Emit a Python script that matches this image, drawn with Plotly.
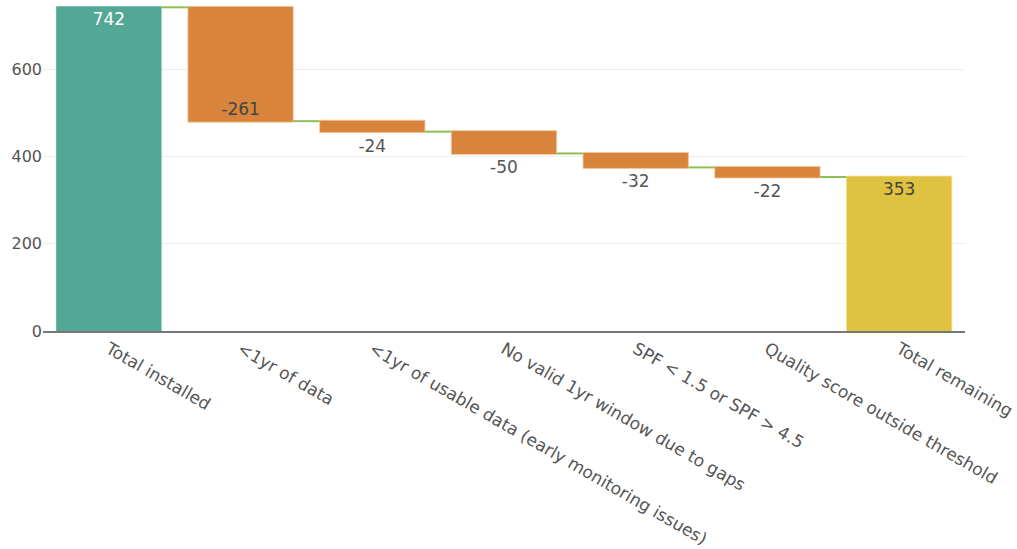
import plotly.graph_objects as go

categories = [
    "Total installed",
    "<1yr of data",
    "<1yr of usable data (early monitoring issues)",
    "No valid 1yr window due to gaps",
    "SPF < 1.5 or SPF > 4.5",
    "Quality score outside threshold",
    "Total remaining",
]
values = [742, -261, -24, -50, -32, -22, 353]
measures = ["relative", "relative", "relative", "relative", "relative", "relative", "total"]
labels = ["742", "-261", "-24", "-50", "-32", "-22", "353"]
label_colors = ["white", "#444", "#555", "#555", "#555", "#555", "#444"]

TEAL = "#53A795"
ORANGE = "#D9843C"
YELLOW = "#DFC23F"
CONNECTOR = "#8DBF55"
FONT = "DejaVu Sans, Verdana, sans-serif"

fig = go.Figure(
    go.Waterfall(
        x=categories,
        y=values,
        measure=measures,
        text=labels,
        textposition="auto",
        textfont=dict(size=17, color=label_colors, family=FONT),
        decreasing=dict(marker=dict(color=ORANGE, line=dict(color="rgba(245,200,160,0.8)", width=1))),
        increasing=dict(marker=dict(color=TEAL)),
        totals=dict(marker=dict(color=YELLOW, line=dict(color="rgba(245,225,160,0.8)", width=1))),
        connector=dict(line=dict(color=CONNECTOR, width=2)),
        showlegend=False,
    )
)

fig.update_layout(
    width=1017,
    height=549,
    margin=dict(l=43, r=52, t=6, b=218),
    paper_bgcolor="white",
    plot_bgcolor="white",
    font=dict(family=FONT, size=16, color="#555"),
    bargap=0.2,
    showlegend=False,
)
fig.update_xaxes(
    tickangle=30,
    showline=True,
    linecolor="#777",
    linewidth=1.5,
    showgrid=False,
    automargin=False,
    tickfont=dict(size=17, color="#555"),
)
fig.update_yaxes(
    range=[0, 745],
    tickvals=[0, 200, 400, 600],
    gridcolor="#EEEEEE",
    zeroline=False,
    showline=False,
    automargin=False,
    tickfont=dict(size=16, color="#555"),
)

fig.write_html("out.html")
